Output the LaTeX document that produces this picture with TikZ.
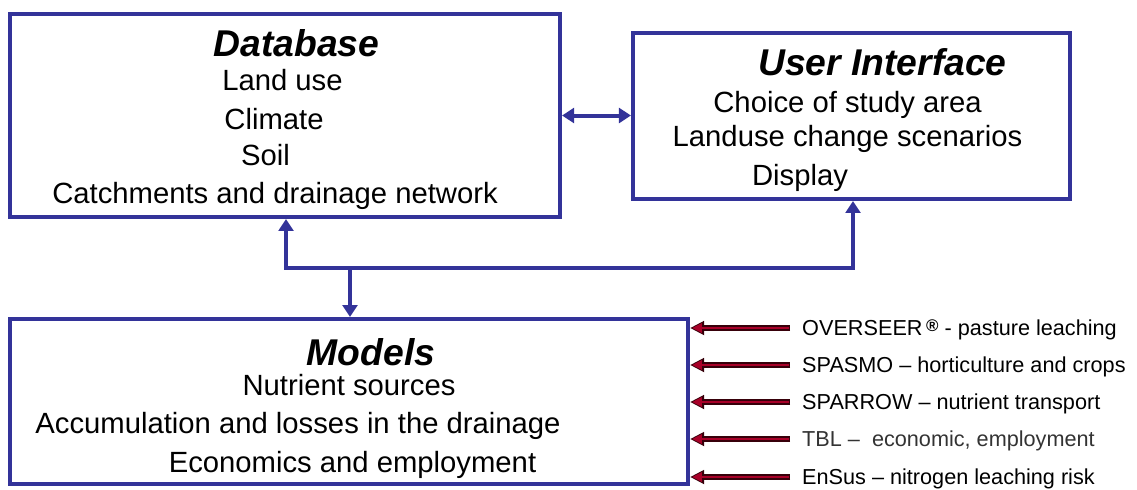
\documentclass[tikz,border=0pt]{standalone}
\usepackage{fontspec}
\setmainfont{Liberation Sans}
\usetikzlibrary{arrows.meta}

\definecolor{frameblue}{RGB}{51,51,153}
\definecolor{feedred}{RGB}{168,0,40}
\definecolor{feededge}{RGB}{55,0,10}

\begin{document}
\begin{tikzpicture}[
    x=0.025cm, y=-0.025cm,
    >={Triangle[length=8.5pt, width=10.5pt]},
    panel/.style={
      draw=frameblue, line width=2.85pt, fill=white,
      inner sep=0pt},
    link/.style={draw=frameblue, line width=2.85pt},
    head/.style={
      anchor=base, inner sep=0pt,
      font=\fontsize{26.5}{30}\selectfont\bfseries\itshape},
    body/.style={
      anchor=base, inner sep=0pt,
      font=\fontsize{20.8}{24}\selectfont},
    src/.style={
      anchor=west, inner xsep=8.5pt, inner ysep=0pt,
      text height=11pt, text depth=0pt,
      font=\fontsize{15.4}{18}\selectfont},
    feed/.style={
      draw=feededge, line width=3.6pt,
      -{Triangle[length=10pt, width=9.5pt]},
      postaction={draw=feedred, line width=2pt,
        -{Triangle[length=7pt, width=6.5pt]},
        shorten >=1.4pt, shorten <=0.8pt}},
]
\useasboundingbox (0,0) rectangle (1137,489);

% ---- the three blocks ----
\node[panel, minimum width=13.75cm, minimum height=5.075cm] (db)  at (285,115.5) {};
\node[panel, minimum width=10.925cm, minimum height=4.15cm] (ui)  at (851.5,116) {};
\node[panel, minimum width=16.95cm, minimum height=4.125cm] (mdl) at (349,401.5) {};

% ---- database contents ----
\node[head] (dbT)  at (296.5,56) {Database};
\node[body] (dbL1) at (282.5,90) {Land use};
\node[body] (dbL2) at (274,129)  {Climate};
\node[body] (dbL3) at (265.5,165) {Soil};
\node[body] (dbL4) at (275,203)  {Catchments and drainage network};

% ---- user interface contents ----
\node[head] (uiT)  at (882.5,75) {User Interface};
\node[body] (uiL1) at (847.5,112) {Choice of study area};
\node[body] (uiL2) at (847.5,146) {Landuse change scenarios};
\node[body] (uiL3) at (800,185)   {Display};

% ---- model contents ----
\node[head] (mdT)  at (371,365)   {Models};
\node[body] (mdL1) at (349,395)   {Nutrient sources};
\node[body] (mdL2) at (298,433)   {Accumulation and losses in the drainage};
\node[body] (mdL3) at (352.5,472) {Economics and employment};

% ---- links between the blocks ----
\coordinate (busL) at (286,268);
\coordinate (busR) at (853,268);
\coordinate (busJ) at (350,268);

\draw[link, <->] (db.east) -- (db.east -| ui.west);
\draw[link, <->] (db.south -| busL) -- (busL) -- (busR) -- (ui.south -| busR);
\draw[link, ->]  (busJ) -- (mdl.north -| busJ);

% ---- model sources feeding in from the right ----
\node[src] (ovs) at (790,328) {OVERSEER\,\raisebox{3pt}{\fontsize{12}{13}\selectfont\textbf{®}} - pasture leaching};
\node[src] (spm) at (790,365) {SPASMO -- horticulture and crops};
\node[src] (spr) at (790,402) {SPARROW -- nutrient transport};
\node[src, text=black!80] (tbl) at (790,439) {TBL --\ \ economic, employment};
\node[src] (ens) at (790,477) {EnSus -- nitrogen leaching risk};

\draw[feed] (ovs.west) -- (ovs.west -| mdl.east);
\draw[feed] (spm.west) -- (spm.west -| mdl.east);
\draw[feed] (spr.west) -- (spr.west -| mdl.east);
\draw[feed] (tbl.west) -- (tbl.west -| mdl.east);
\draw[feed] (ens.west) -- (ens.west -| mdl.east);

\end{tikzpicture}
\end{document}
